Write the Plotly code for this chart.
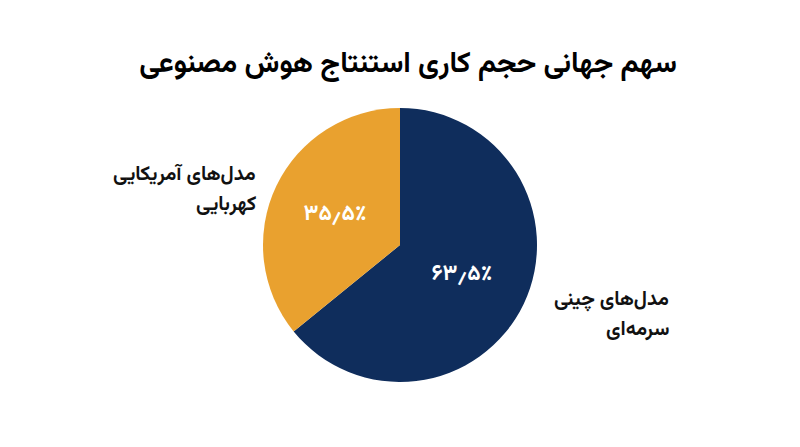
import plotly.graph_objects as go

title = "سهم جهانی حجم کاری استنتاج هوش مصنوعی"
labels = ["مدل‌های چینی<br>سرمه‌ای", "مدل‌های آمریکایی<br>کهربایی"]
values = [63.5, 35.5]
pct_text = ["۶۳٫۵٪", "۳۵٫۵٪"]
colors = ["#0f2d5c", "#e9a12f"]

FONT = "Vazirmatn, 'Noto Sans Arabic', 'DejaVu Sans', sans-serif"

cx, top, bot, r = 392, 100, 374, 137
fig = go.Figure(go.Pie(
    values=values,
    labels=labels,
    text=pct_text,
    textinfo="text",
    textposition="inside",
    insidetextorientation="horizontal",
    textfont=dict(family=FONT, size=22, color="white", weight="bold"),
    marker=dict(colors=colors, line=dict(width=0)),
    sort=False,
    direction="clockwise",
    rotation=0,
    showlegend=False,
    hoverinfo="label+text",
    domain=dict(x=[(cx - r) / 800, (cx + r) / 800],
                y=[1 - bot / 447, 1 - top / 447]),
))

# first-line positions (right edge x, centre y) for each label; lines 30px apart
label_pos = [(663, 292), (250, 167)]
for lab, (px, py) in zip(labels, label_pos):
    for i, line in enumerate(lab.split("<br>")):
        fig.add_annotation(
            text=line, x=px / 800, y=1 - (py + 30 * i) / 447, xref="paper", yref="paper",
            xanchor="right", yanchor="middle", align="right", showarrow=False,
            font=dict(family=FONT, size=20, color="#111111", weight="bold"),
        )

fig.update_layout(
    width=800, height=447,
    margin=dict(l=0, r=0, t=0, b=0),
    paper_bgcolor="white", plot_bgcolor="white",
    title=dict(text=title, x=0.5, xanchor="center", y=1 - 54 / 447, yanchor="middle",
               font=dict(family=FONT, size=29, color="#000000", weight="bold")),
)

fig.write_html("out.html")
